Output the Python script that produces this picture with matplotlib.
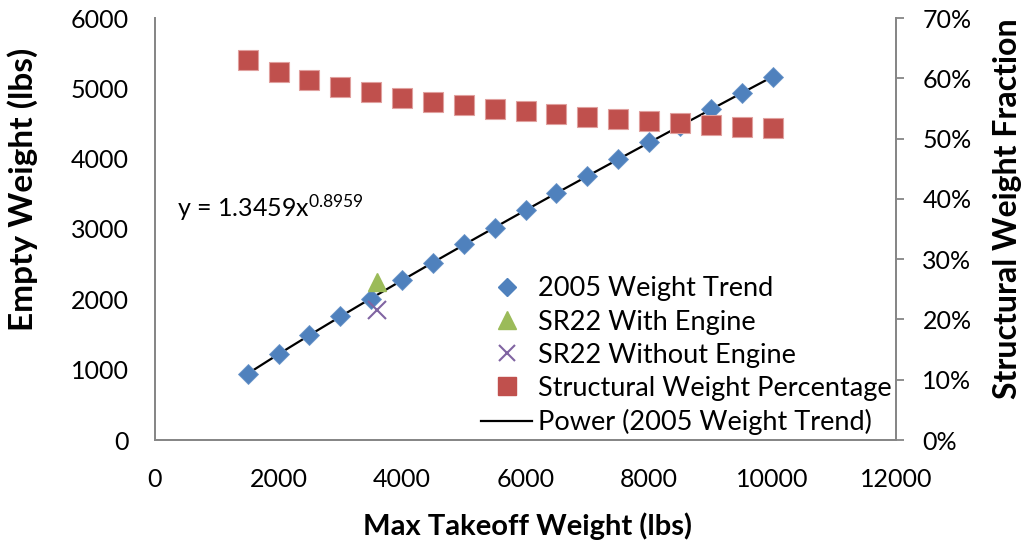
import numpy as np
import matplotlib.pyplot as plt
from matplotlib.ticker import PercentFormatter
from matplotlib.lines import Line2D

plt.rcParams['font.family'] = ['Lato', 'DejaVu Sans']
plt.rcParams['mathtext.default'] = 'regular'

# 2005 weight trend (max takeoff weight vs empty weight)
mtow = [1500, 2000, 2500, 3000, 3500, 4000, 4500, 5000, 5500,
        6000, 6500, 7000, 7500, 8000, 8500, 9000, 9500, 10000]
empty_wt = [940, 1220, 1490, 1760, 2010, 2270, 2520, 2780, 3020,
            3270, 3510, 3750, 3990, 4230, 4460, 4700, 4930, 5160]
struct_frac = [0.630, 0.611, 0.597, 0.586, 0.577, 0.568, 0.561, 0.556, 0.549,
               0.545, 0.541, 0.536, 0.532, 0.529, 0.526, 0.522, 0.519, 0.517]

sr22_mtow = [3600]
sr22_with_engine = [2250]
sr22_without_engine = [1850]

blue = '#4F81BD'
red = '#C0504D'
green = '#9BBB59'
purple = '#8064A2'
grey = '#868686'

fig = plt.figure(figsize=(10.29, 5.5), dpi=100)
ax = fig.add_axes([155/1029, 110/550, 741/1029, 422/550])
ax2 = ax.twinx()

# power trendline fitted on the trend points
b, log_a = np.polyfit(np.log(mtow), np.log(empty_wt), 1)
xs = np.linspace(mtow[0], mtow[-1], 200)
ax.plot(xs, np.exp(log_a) * xs ** b, color='black', lw=1.6, zorder=3)

ax.plot(mtow, empty_wt, 'D', ms=10.2, color=blue, mec='#6A95C9', mew=0.6, zorder=4)
ax.plot(sr22_mtow, sr22_with_engine, '^', ms=13, color=green, zorder=5)
ax.plot(sr22_mtow, sr22_without_engine, 'x', ms=13, color=purple, mew=1.5, zorder=5)
ax2.plot(mtow, struct_frac, 's', ms=14, color=red, mec='#E0A09E', mew=0.8)

ax.set_xlim(0, 12000)
ax.set_ylim(0, 6000)
ax2.set_ylim(0, 0.7)
ax.set_xticks(range(0, 12001, 2000))
ax.set_yticks(range(0, 6001, 1000))
ax2.set_yticks(np.arange(0, 0.71, 0.1))
ax2.yaxis.set_major_formatter(PercentFormatter(1.0, decimals=0))

for a in (ax, ax2):
    a.spines['top'].set_visible(False)
    for s in ('left', 'right', 'bottom'):
        a.spines[s].set_color(grey)
        a.spines[s].set_linewidth(1.3)
ax.tick_params(axis='y', length=0, pad=19, labelsize=18)
ax.tick_params(axis='x', length=0, pad=20, labelsize=18)
ax2.tick_params(axis='y', length=6, width=1.3, color=grey, pad=13, labelsize=18)

ax.set_xlabel('Max Takeoff Weight (lbs)', fontsize=21, fontweight='bold')
ax.set_ylabel('Empty Weight (lbs)', fontsize=24, fontweight='bold')
ax2.set_ylabel('Structural Weight Fraction', fontsize=23, fontweight='bold')
ax.xaxis.set_label_coords(0.503, -0.171)
ax.yaxis.set_label_coords(-0.158, 0.595)
ax2.yaxis.set_label_coords(1.131, 0.547)

ax.text(350, 3300, r'y = 1.3459x$^{0.8959}$', fontsize=18, va='center')

handles = [
    Line2D([], [], ls='none', marker='D', ms=9, color=blue),
    Line2D([], [], ls='none', marker='^', ms=12.5, color=green),
    Line2D([], [], ls='none', marker='x', ms=12, mew=1.5, color=purple),
    Line2D([], [], ls='none', marker='s', ms=13, color=red),
    Line2D([], [], color='black', lw=1.6),
]
labels = ['2005 Weight Trend', 'SR22 With Engine', 'SR22 Without Engine',
          'Structural Weight Percentage', 'Power (2005 Weight Trend)']
ax2.legend(handles, labels, loc='lower left', bbox_to_anchor=(481/1029, 115/550),
           bbox_transform=fig.transFigure, frameon=False, fontsize=19.5,
           handlelength=1.9, handletextpad=0.22, labelspacing=0.3,
           borderpad=0, borderaxespad=0)

fig.savefig('out.png', dpi=100)
